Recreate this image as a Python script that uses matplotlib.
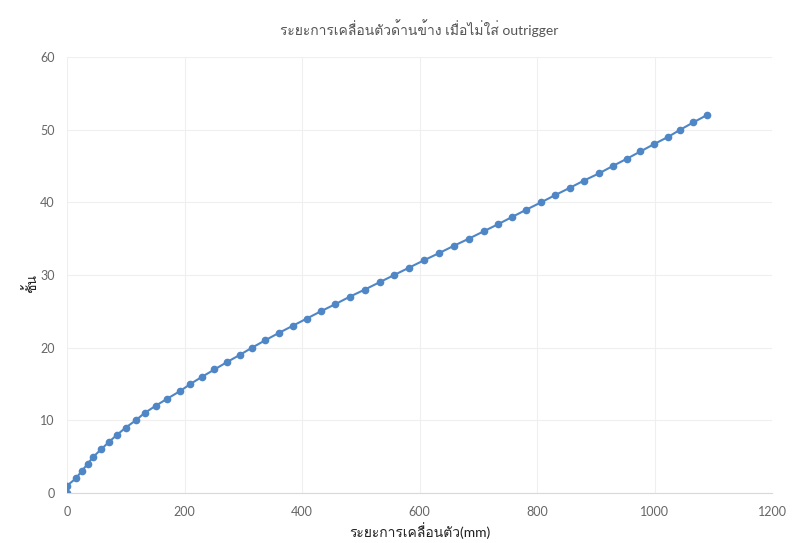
import numpy as np
import matplotlib
matplotlib.use('Agg')
import matplotlib.pyplot as plt
from matplotlib import font_manager
from matplotlib.ft2font import FT2Font

# floor number vs lateral displacement (mm)
floors = list(range(0, 53))
disp = [0, 0, 15, 25, 35, 45, 58, 71, 85, 100,
        117, 132, 151, 171, 192, 210, 230, 251, 272, 294,
        315, 337, 360, 384, 408, 432, 457, 481, 507, 532,
        557, 582, 607, 633, 658, 684, 709, 734, 758, 782,
        807, 831, 856, 880, 906, 929, 953, 976, 999, 1023,
        1044, 1066, 1089]

title = 'ระยะการเคลื่อนตัวด้านข้าง เมื่อไม่ใส่ outrigger'
xlab = 'ระยะการเคลื่อนตัว(mm)'
ylab = 'ชั้น'
xticks = [0, 200, 400, 600, 800, 1000, 1200]
yticks = [0, 10, 20, 30, 40, 50, 60]

# installed families that carry Thai glyphs (Loma preferred)
thai = []
for f in font_manager.fontManager.ttflist:
    try:
        cmap = FT2Font(f.fname).get_charmap()
    except Exception:
        continue
    if ord('ก') in cmap and ord('ั') in cmap and f.name not in thai:
        thai.append(f.name)
if 'Loma' in thai:
    thai.remove('Loma'); thai.insert(0, 'Loma')

plt.rcParams['font.family'] = ['Lato'] + thai + ['DejaVu Sans']

fig = plt.figure(figsize=(7.96, 5.43), dpi=100)
ax = fig.add_axes([67/796, 50/543, 705/796, 436/543])

blue = '#4f86c6'
ax.plot(disp, floors, '-o', color=blue, markersize=4.5, linewidth=1.5)

ax.set_xlim(0, 1200)
ax.set_ylim(0, 60)
ax.set_xticks(xticks)
ax.set_yticks(yticks)
ax.grid(True, color='#efefef', linewidth=0.8)
ax.set_axisbelow(True)
for s in ['top', 'right', 'left']:
    ax.spines[s].set_visible(False)
ax.spines['bottom'].set_color('#d9d9d9')
ax.tick_params(length=0, colors='#666666', labelsize=9, pad=9)

ax.set_title(title, fontsize=10, color='#555555', pad=16)
ax.set_xlabel(xlab, fontsize=10, color='#222222', va='center')
ax.xaxis.set_label_coords(0.5, -0.087)
ax.set_ylabel(ylab, fontsize=10, color='#222222', va='center')
ax.yaxis.set_label_coords(-0.052, 0.48)

fig.savefig('out.png', dpi=100)
